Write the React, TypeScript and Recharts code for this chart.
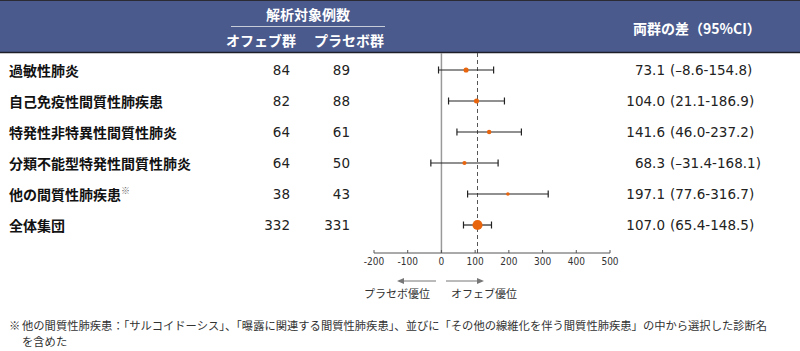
import React from "react";
import { ComposedChart, Scatter, ErrorBar, XAxis, YAxis, ReferenceLine } from "recharts";

const subgroups = [
  "過敏性肺炎",
  "自己免疫性間質性肺疾患",
  "特発性非特異性間質性肺炎",
  "分類不能型特発性間質性肺炎",
  "他の間質性肺疾患※",
  "全体集団",
];
const ofevN = [84, 82, 64, 64, 38, 332];
const placeboN = [89, 88, 61, 50, 43, 331];
const diff = [73.1, 104.0, 141.6, 68.3, 197.1, 107.0];
const ciLow = [-8.6, 21.1, 46.0, -31.4, 77.6, 65.4];
const ciHigh = [154.8, 186.9, 237.2, 168.1, 316.7, 148.5];
const xTicks = [-200, -100, 0, 100, 200, 300, 400, 500];

const JP = "'Noto Sans CJK JP', sans-serif";
const NUM = "'DejaVu Sans', 'Noto Sans CJK JP', sans-serif";
const NARROW = "'Liberation Sans Narrow', 'DejaVu Sans Condensed', sans-serif";

const rows = subgroups.map((name, i) => ({
  row: i,
  est: diff[i],
  err: [diff[i] - ciLow[i], ciHigh[i] - diff[i]],
  // marker shrinks as the CI gets wider (weight-like)
  r: 420 / (ciHigh[i] - ciLow[i]),
}));

const fmt = (v: number) => (v < 0 ? "–" + Math.abs(v).toFixed(1) : v.toFixed(1));

function RowTick(props: any) {
  const { y, payload } = props;
  const i = payload.value;
  const name = subgroups[i];
  const mark = name.endsWith("※");
  return (
    <g>
      <text x={9} y={y} dominantBaseline="central" fontFamily={JP} fontWeight={700} fontSize={14} fill="#111">
        {mark ? name.slice(0, -1) : name}
        {mark && (
          <tspan fontSize={9} dy={-4} fill="#666" fontWeight={400}>
            ※
          </tspan>
        )}
      </text>
      <text x={290} y={y} dominantBaseline="central" textAnchor="end" fontFamily={NUM} fontSize={13.5} fill="#222">
        {ofevN[i]}
      </text>
      <text x={350} y={y} dominantBaseline="central" textAnchor="end" fontFamily={NUM} fontSize={13.5} fill="#222">
        {placeboN[i]}
      </text>
      <text x={665} y={y} dominantBaseline="central" textAnchor="end" fontFamily={NUM} fontSize={13.5} fill="#222">
        {fmt(diff[i])}
      </text>
      <text x={670} y={y} dominantBaseline="central" fontFamily={NUM} fontSize={13.5} fill="#222">
        ({fmt(ciLow[i])}-{fmt(ciHigh[i])})
      </text>
    </g>
  );
}

function XTick(props: any) {
  const { x, y, payload } = props;
  return (
    <g>
      <line x1={x} x2={x} y1={y - 3} y2={y} stroke="#555" />
      <text x={x} y={y + 12} textAnchor="middle" fontFamily={NARROW} fontSize={10} fill="#333">
        {payload.value}
      </text>
    </g>
  );
}

function Dot(props: any) {
  const { cx, cy, payload } = props;
  return <circle cx={cx} cy={cy} r={payload.r} fill="#e8650d" />;
}

export default function App() {
  return (
    <div style={{ position: "relative", width: 800, height: 351, background: "#fff", overflow: "hidden" }}>
      <style>{`body{margin:0}`}</style>
      <svg width={800} height={351} style={{ position: "absolute", left: 0, top: 0 }}>
        <rect x={0} y={0} width={800} height={53} fill="#4a5a8c" />
        <line x1={0} x2={800} y1={0.5} y2={0.5} stroke="#2b2b33" />
        <line x1={0} x2={800} y1={52.5} y2={52.5} stroke="#1e1e28" strokeWidth={1.5} />
        <text x={308} y={14} textAnchor="middle" dominantBaseline="central" fontFamily={JP} fontWeight={700} fontSize={14} fill="#fff">
          解析対象例数
        </text>
        <line x1={231} x2={385} y1={26.5} y2={26.5} stroke="#c8ccd8" />
        <text x={261} y={40} textAnchor="middle" dominantBaseline="central" fontFamily={JP} fontWeight={700} fontSize={14} fill="#fff">
          オフェブ群
        </text>
        <text x={349} y={40} textAnchor="middle" dominantBaseline="central" fontFamily={JP} fontWeight={700} fontSize={14} fill="#fff">
          プラセボ群
        </text>
        <text x={633} y={28} dominantBaseline="central" fontFamily={JP} fontWeight={700} fontSize={14} fill="#fff">
          両群の差（95%CI）
        </text>

        <line x1={402} x2={436} y1={281} y2={281} stroke="#777" />
        <polygon points="397,281 404,278 404,284" fill="#777" />
        <line x1={446} x2={479} y1={281} y2={281} stroke="#777" />
        <polygon points="484,281 477,278 477,284" fill="#777" />
        <text x={397} y={293} textAnchor="middle" dominantBaseline="central" fontFamily={JP} fontSize={11} fill="#333">
          プラセボ優位
        </text>
        <text x={484} y={293} textAnchor="middle" dominantBaseline="central" fontFamily={JP} fontSize={11} fill="#333">
          オフェブ優位
        </text>
      </svg>

      <div style={{ position: "absolute", left: 0, top: 0 }}>
        <ComposedChart width={800} height={300} data={rows} margin={{ top: 53, right: 190, bottom: 17, left: 0 }}>
          <XAxis
            type="number"
            dataKey="est"
            domain={[-200, 500]}
            ticks={xTicks}
            interval={0}
            height={30}
            tickSize={0}
            tickMargin={0}
            tickLine={false}
            axisLine={{ stroke: "#555" }}
            tick={<XTick />}
            allowDataOverflow
          />
          <YAxis
            type="number"
            dataKey="row"
            domain={[-0.548, 5.903]}
            reversed
            ticks={[0, 1, 2, 3, 4, 5]}
            interval={0}
            width={374}
            axisLine={false}
            tickLine={false}
            tick={<RowTick />}
            allowDataOverflow
          />
          <ReferenceLine x={0} stroke="#999" strokeWidth={1.5} />
          <ReferenceLine x={diff[5]} stroke="#555" strokeDasharray="4 3" />
          <Scatter data={rows} dataKey="est" isAnimationActive={false} shape={() => <g />}>
            <ErrorBar dataKey="err" direction="x" width={3.5} stroke="#222" strokeWidth={1.2} />
          </Scatter>
          <Scatter data={rows} dataKey="est" isAnimationActive={false} shape={<Dot />} />
        </ComposedChart>
      </div>

      <div style={{ position: "absolute", left: 9, top: 317, fontFamily: JP, fontSize: 11.3, color: "#333", lineHeight: "16px" }}>
        ※
      </div>
      <div style={{ position: "absolute", left: 22, top: 317, width: 778, fontFamily: JP, fontSize: 11.3, color: "#333", lineHeight: "16px", whiteSpace: "nowrap" }}>
        他の間質性肺疾患：「サルコイドーシス」、「曝露に関連する間質性肺疾患」、並びに「その他の線維化を伴う間質性肺疾患」の中から選択した診断名
        <br />
        を含めた
      </div>
    </div>
  );
}
